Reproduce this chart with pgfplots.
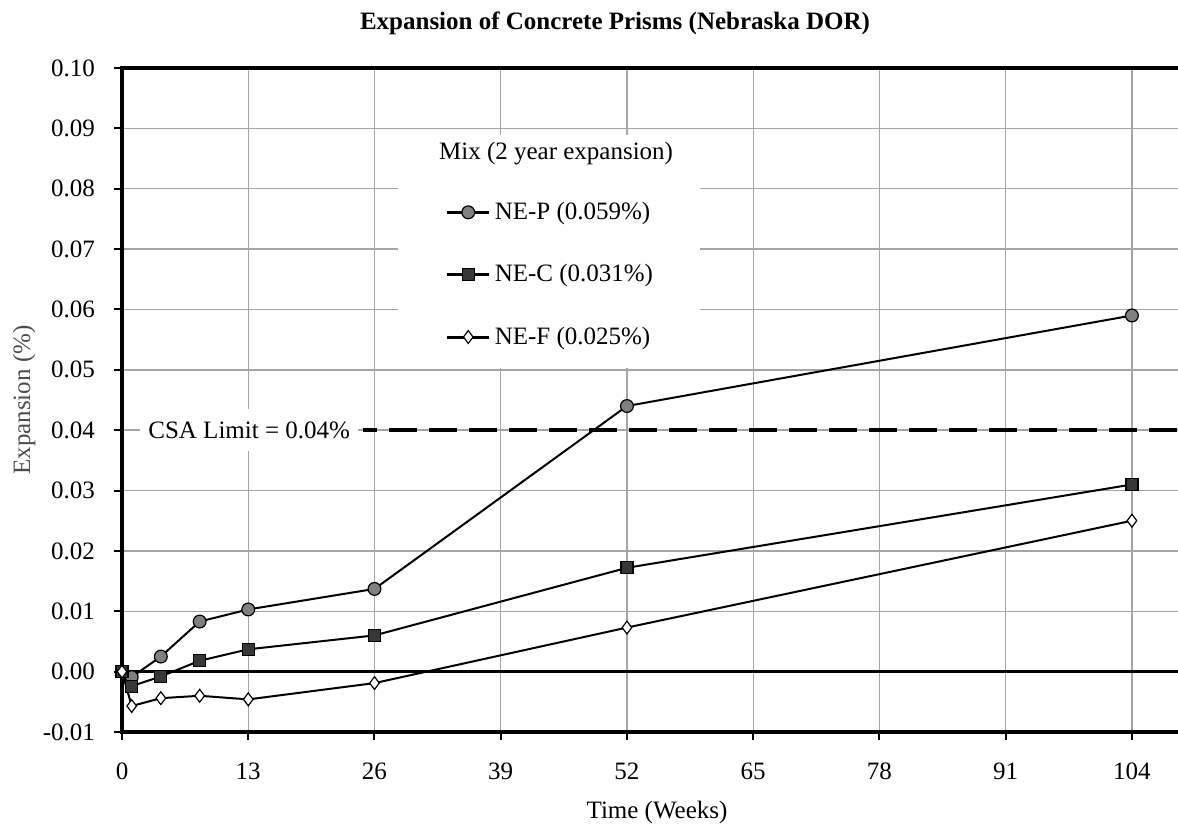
\documentclass[border=0pt]{standalone}
\usepackage{fontspec}
\setmainfont{Liberation Serif}
\usepackage{pgfplots}
\pgfplotsset{compat=1.18}
\definecolor{gridgray}{RGB}{165,165,165}
\definecolor{pgray}{RGB}{128,128,128}
\definecolor{cdark}{RGB}{55,55,55}

\begin{document}
\begin{tikzpicture}[font=\fontsize{12.5}{15}\selectfont]
\useasboundingbox (0,0) rectangle (589pt,414pt);
\begin{axis}[
  at={(61pt,48pt)}, anchor=south west,
  scale only axis, width=543.8pt, height=332pt,
  xmin=0, xmax=112, ymin=-0.01, ymax=0.10,
  xtick={0,13,26,39,52,65,78,91,104},
  ytick={-0.01,0,0.01,0.02,0.03,0.04,0.05,0.06,0.07,0.08,0.09,0.10},
  yticklabel style={/pgf/number format/.cd, fixed, fixed zerofill, precision=2},
  /pgf/number format/assume math mode=true,
  xticklabel shift=8pt, yticklabel shift=6pt,
  grid=major, grid style={gridgray, line width=0.7pt},
  axis line style={line width=2pt},
  tick align=outside, tick pos=left,
  major tick length=4pt, tick style={black, line width=1pt},
  clip=false,
  legend style={at={(axis cs:33.3,0.0785)}, anchor=north west, draw=none,
    fill=none, inner sep=0pt, row sep=17pt, cells={anchor=west}},
  legend image code/.code={\draw[mark repeat=2, mark phase=2, line width=1.5pt]
    plot coordinates {(0pt,0pt) (10.5pt,0pt) (21pt,0pt)};},
]
% white area behind legend
\fill[white] (axis cs:28.4,0.0503) rectangle (axis cs:59.5,0.0889);
% zero line
\addplot[black, line width=1.2pt, forget plot] coordinates {(0,0) (112,0)};
% CSA limit
\addplot[black, line width=1.7pt, dash pattern=on 14pt off 6pt, dash phase=7pt, forget plot]
  coordinates {(24.8,0.04) (112,0.04)};
\node[fill=white, anchor=west, inner xsep=4pt, minimum height=21pt]
  at (axis cs:1.85,0.04) {CSA Limit = 0.04\%};

\addplot[black, line width=1pt, mark=*, mark size=3.2pt,
  mark options={fill=pgray, line width=0.6pt}]
  coordinates {(0,0) (1,-0.0009) (4,0.0025) (8,0.0083) (13,0.0103) (26,0.0137) (52,0.044) (104,0.059)};
\addlegendentry{NE-P (0.059\%)}
\addplot[black, line width=1pt, mark=square*, mark size=3pt,
  mark options={fill=cdark, line width=0.6pt}]
  coordinates {(0,0) (1,-0.0024) (4,-0.0008) (8,0.0018) (13,0.0037) (26,0.006) (52,0.0172) (104,0.031)};
\addlegendentry{NE-C (0.031\%)}
\addplot[black, line width=1pt, mark=diamond*, mark size=3.2pt,
  mark options={fill=white, line width=0.6pt}]
  coordinates {(0,0) (1,-0.0057) (4,-0.0044) (8,-0.004) (13,-0.0046) (26,-0.0019) (52,0.0073) (104,0.025)};
\addlegendentry{NE-F (0.025\%)}

\node at (axis cs:44.7,0.0859) {Mix (2 year expansion)};
\end{axis}
\node at (307.5pt,402.5pt) {\bfseries Expansion of Concrete Prisms (Nebraska DOR)};
\node at (328.5pt,8pt) {Time (Weeks)};
\node[rotate=90, text=black!70] at (12pt,214pt) {Expansion (\%)};
\end{tikzpicture}
\end{document}
